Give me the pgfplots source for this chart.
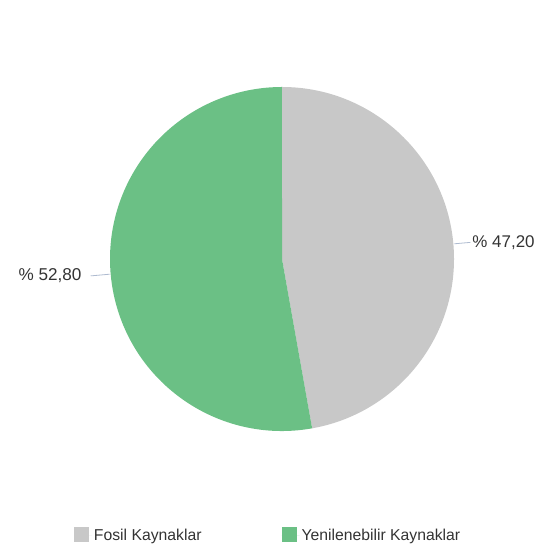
\documentclass[border=0pt]{standalone}
\usepackage{fontspec}
\setmainfont{Liberation Sans}
\usepackage{pgfplots}
\usepackage{pgfplotstable}
\pgfplotsset{compat=1.18}
\definecolor{fosilc}{HTML}{C8C8C8}
\definecolor{yenic}{HTML}{6BC085}
\definecolor{leaderc}{HTML}{AEBBD0}
\definecolor{textc}{HTML}{333333}
\pgfplotstableread{
label value
Fosil 47.20
Yenilenebilir 52.80
}\piedata
\begin{document}
\begin{tikzpicture}
\pgfplotstablegetelem{0}{value}\of\piedata
\pgfmathsetmacro{\va}{\pgfplotsretval}
\pgfplotstablegetelem{1}{value}\of\piedata
\pgfmathsetmacro{\vb}{\pgfplotsretval}
\pgfmathsetmacro{\tot}{\va+\vb}
\pgfmathsetmacro{\fa}{\va/\tot}
\pgfmathsetmacro{\fb}{\vb/\tot}
\pgfmathsetmacro{\aA}{90}
\pgfmathsetmacro{\aB}{90-360*\fa}
\pgfmathsetmacro{\aC}{\aB-360*\fb}
\pgfmathsetmacro{\mA}{(\aA+\aB)/2}
\pgfmathsetmacro{\mB}{(\aB+\aC)/2}
\begin{axis}[
  x=1bp, y=1bp,
  xmin=0, xmax=537, ymin=0, ymax=544,
  hide axis, clip=false,
  legend columns=2,
  legend image code/.code={\path[#1] (0bp,-6.5bp) rectangle (15bp,8.5bp); \path (0bp,0bp) -- (18bp,0bp);},
  legend style={at={(axis cs:74,0)}, anchor=south west, draw=none, fill=none,
    inner sep=0pt, outer sep=0pt,
    font=\fontsize{15.8}{18}\selectfont\color{textc},
    /tikz/every even column/.append style={column sep=78bp},
    cells={anchor=west}},
]
\path (axis cs:0,0) rectangle (axis cs:537,544);
\fill[fosilc] (axis cs:282,285) -- ++(\aA:172bp) arc[start angle=\aA, end angle=\aB, radius=172bp] -- cycle;
\fill[yenic] (axis cs:282,285) -- ++(\aB:172bp) arc[start angle=\aB, end angle=\aC, radius=172bp] -- cycle;
\draw[leaderc, line width=0.8bp] (axis cs:282,285) ++(\mA:173bp) -- ++(\mA:16bp) coordinate (la);
\draw[leaderc, line width=0.8bp] (axis cs:282,285) ++(\mB:173bp) -- ++(\mB:19bp) coordinate (lb);
\node[anchor=west, inner sep=2bp, font=\fontsize{17}{20}\selectfont, text=textc] at (la) {\% 47,20};
\node[anchor=east, inner sep=9bp, font=\fontsize{17.2}{20}\selectfont, text=textc] at (lb) {\% 52,80};
\addlegendimage{fill=fosilc, draw=none}
\addlegendentry{Fosil Kaynaklar}
\addlegendimage{fill=yenic, draw=none}
\addlegendentry{Yenilenebilir Kaynaklar}
\end{axis}
\end{tikzpicture}
\end{document}
